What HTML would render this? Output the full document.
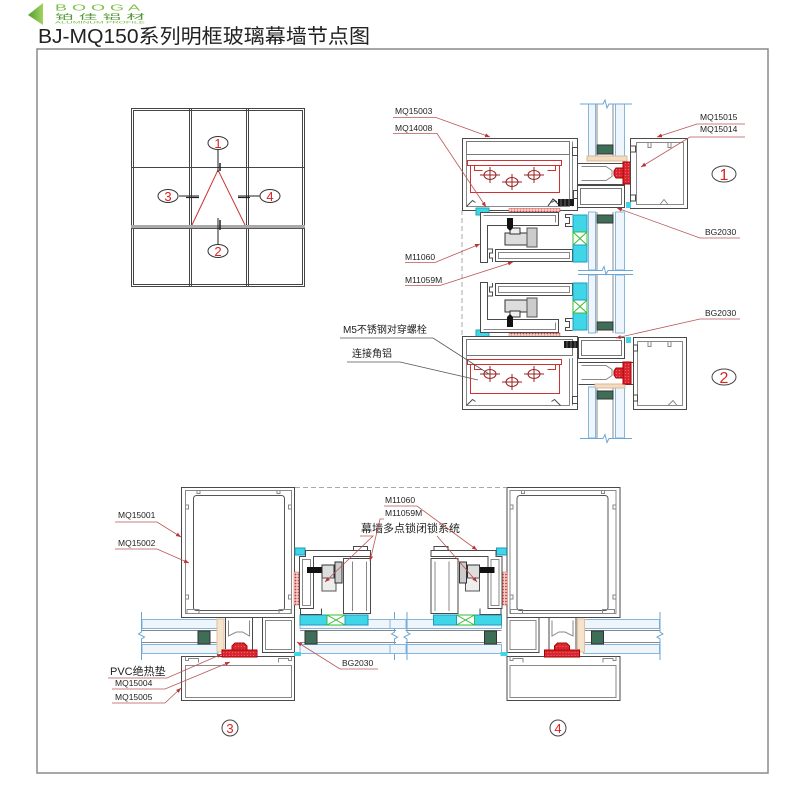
<!DOCTYPE html>
<html><head><meta charset="utf-8">
<style>
html,body{margin:0;padding:0;background:#fff;width:801px;height:801px;overflow:hidden;}
svg{display:block;}
text{font-family:"Liberation Sans","Noto Sans CJK SC",sans-serif;}
</style></head><body>
<svg width="801" height="801" viewBox="0 0 801 801" xmlns="http://www.w3.org/2000/svg">
<defs>
<linearGradient id="lg" x1="0" y1="0" x2="1" y2="0"><stop offset="0" stop-color="#4e9d2f"/><stop offset="1" stop-color="#a3d35f"/></linearGradient>
<pattern id="rh" width="3" height="3" patternUnits="userSpaceOnUse"><rect width="3" height="3" fill="#f4d0c8"/><circle cx="1.5" cy="1.5" r="0.9" fill="#c33"/></pattern>
<pattern id="rd" width="3" height="3" patternUnits="userSpaceOnUse"><rect width="3" height="3" fill="#d62828"/><circle cx="1.5" cy="1.5" r="0.6" fill="#f59"/></pattern>
<marker id="ar" markerWidth="6" markerHeight="6" refX="5" refY="3" orient="auto" markerUnits="userSpaceOnUse"><path d="M0,1 L5,3 L0,5 Z" fill="#b33"/></marker>
</defs>

<!-- header -->
<polygon points="28,15 43,3 43,25" fill="url(#lg)"/>
<text x="55" y="10.5" font-size="8" fill="#7dbf45" textLength="85" lengthAdjust="spacingAndGlyphs">B O O G A</text>
<text x="55" y="19" font-size="7" fill="#4f9a35" textLength="90" lengthAdjust="spacingAndGlyphs">铂 佳 铝 材</text>
<text x="55" y="23.5" font-size="3.8" fill="#7dbf45" textLength="90" lengthAdjust="spacingAndGlyphs">ALUMINUM PROFILE</text>
<text x="38" y="43" font-size="20" fill="#222" textLength="332" lengthAdjust="spacingAndGlyphs">BJ-MQ150系列明框玻璃幕墙节点图</text>

<!-- frame -->
<rect x="37" y="49" width="731" height="724" fill="none" stroke="#8a8a8a" stroke-width="1.5"/>

<!-- elevation -->
<g stroke="#444" stroke-width="1" fill="none">
<rect x="131.5" y="108.5" width="173" height="178"/>
<rect x="133.5" y="110.5" width="169" height="174"/>
<line x1="189.5" y1="108" x2="189.5" y2="287"/>
<line x1="191.5" y1="108" x2="191.5" y2="287"/>
<line x1="246.5" y1="108" x2="246.5" y2="287"/>
<line x1="248.5" y1="108" x2="248.5" y2="287"/>
<line x1="131" y1="167.5" x2="305" y2="167.5"/>
</g>
<line x1="131" y1="226.5" x2="305" y2="226.5" stroke="#aaa" stroke-width="3"/>
<line x1="131" y1="228.5" x2="305" y2="228.5" stroke="#555"/>
<polyline points="192,225 218,170 245,225" fill="none" stroke="#c33" stroke-width="1"/>
<g stroke="#222" fill="none">
<line x1="218" y1="150" x2="218" y2="172"/>
<line x1="220" y1="163" x2="220" y2="171" stroke-width="1.5"/>
<line x1="218" y1="218" x2="218" y2="244"/>
<line x1="220" y1="220" x2="220" y2="230" stroke-width="1.5"/>
<line x1="179" y1="196" x2="199" y2="196"/>
<line x1="186" y1="197.5" x2="199" y2="197.5" stroke-width="1.2"/>
<line x1="238" y1="196" x2="260" y2="196"/>
<line x1="238" y1="197.5" x2="250" y2="197.5" stroke-width="1.2"/>
</g>
<g fill="#fff" stroke="#333">
<ellipse cx="218" cy="143" rx="10" ry="6.5"/>
<ellipse cx="218" cy="251" rx="10" ry="6.5"/>
<ellipse cx="168" cy="196" rx="10" ry="6.5"/>
<ellipse cx="270" cy="196" rx="10" ry="6.5"/>
</g>
<g fill="#d22" font-size="13" text-anchor="middle">
<text x="218" y="148">1</text><text x="218" y="256">2</text><text x="168" y="201">3</text><text x="270" y="201">4</text>
</g>

<!-- ===== section 1 / 2 : vertical glass ===== -->
<g stroke="#86b6dc" fill="#eef6fc">
<rect x="588.5" y="104" width="7" height="54"/><rect x="615.5" y="104" width="9" height="54"/>
<rect x="588.5" y="212" width="7" height="58"/><rect x="615.5" y="212" width="9" height="58"/>
<rect x="588.5" y="275" width="7" height="58"/><rect x="615.5" y="275" width="9" height="58"/>
<rect x="588.5" y="387" width="7" height="51"/><rect x="615.5" y="387" width="9" height="51"/>
</g>
<g stroke="#888">
<line x1="597" y1="104" x2="597" y2="158"/><line x1="613" y1="104" x2="613" y2="158"/>
<line x1="597" y1="212" x2="597" y2="270"/><line x1="613" y1="212" x2="613" y2="270"/>
<line x1="597" y1="275" x2="597" y2="333"/><line x1="613" y1="275" x2="613" y2="333"/>
<line x1="597" y1="387" x2="597" y2="438"/><line x1="613" y1="387" x2="613" y2="438"/>
</g>
<g fill="none" stroke="#6aa6d6" stroke-width="1">
<path d="M580,104 H603 l2,-4 l2,8 l2,-4 H632"/>
<path d="M578,270.5 H602 l2,-4 l2,8 l2,-4 H633"/>
<path d="M578,274.5 H633"/>
<path d="M580,438.5 H603 l2,-4 l2,8 l2,-4 H632"/>
</g>

<!-- dashed vertical -->
<line x1="462" y1="210" x2="462" y2="336" stroke="#aaa" stroke-dasharray="5,3"/>

<!-- section 1 main profile -->
<g fill="none" stroke="#4a4a4a">
<rect x="462.5" y="138.5" width="115" height="72" fill="#fff"/>
<rect x="466.5" y="141.5" width="103" height="13" stroke="#777"/>
<path d="M466.5,154.5 V206.5 H569.5 V154.5" stroke="#888"/>
<path d="M572.5,141.5 V206.5" stroke="#888"/>
<path d="M577.5,147.5 h-5 v8 h5"/>
<path d="M577.5,190.5 h-4 v8 h4"/>
<path d="M466.5,206.5 l6,-6 l3,2 M560.5,206.5 l-6,-6 l-3,2"/>
</g>
<g fill="none" stroke="#c33">
<rect x="467.5" y="160.5" width="94" height="5"/>
<path d="M470.5,165.5 V192.5 H559.5 V165.5"/>
<path d="M474.5,165.5 v5 h8 M555.5,165.5 v5 h-8"/>
</g>
<g stroke="#922" fill="none">
<ellipse cx="490" cy="175" rx="6" ry="4.5"/><path d="M480,175 h20 M490,167 v16"/>
<ellipse cx="512" cy="182" rx="6" ry="4.5"/><path d="M502,182 h20 M512,174 v16"/>
<ellipse cx="534" cy="175" rx="6" ry="4.5"/><path d="M524,175 h20 M534,167 v16"/>
</g>
<path d="M548,206 l5,-7 l4,3" fill="none" stroke="#333"/>
<rect x="558" y="199" width="16" height="7" fill="#1a1a1a"/>
<path d="M561,199 v7 M565,199 v7 M569,199 v7" stroke="#888" stroke-width="0.7"/>
<!-- tube 1 -->
<rect x="577.5" y="185.5" width="47" height="22" fill="#fff" stroke="#4a4a4a"/>
<rect x="580.5" y="188.5" width="41" height="16" fill="none" stroke="#777"/>
<!-- T zone 1 -->
<path d="M577.5,163.5 H630 M577.5,184.5 H625" stroke="#4a4a4a" fill="none"/>
<path d="M581.5,166.5 H606 l6,4 v6 l-6,4 H581.5" stroke="#888" fill="none"/>
<rect x="587" y="156" width="40" height="5" fill="#f3dcc0" stroke="#d9b99a"/>
<rect x="597" y="145" width="16" height="9" fill="#3e6e57" stroke="#333"/>
<path d="M623,168 h-7 l-2,3 v4 l2,3 h7 z" fill="url(#rd)" stroke="#a00"/>
<rect x="623" y="162" width="9" height="22" fill="url(#rd)" stroke="#a00"/>
<!-- right profile 1 -->
<g fill="none" stroke="#4a4a4a">
<rect x="630.5" y="138.5" width="57" height="70" fill="#fff"/>
<rect x="636.5" y="142.5" width="47" height="62" stroke="#888"/>
<path d="M630.5,146 h5 v6 h-5 M630.5,195 h5 v6 h-5"/>
<path d="M648,142.5 v5 h3 v-5 M668,142.5 v5 h3 v-5" stroke="#888"/>
<path d="M660,204.5 l4,-5 l4,5" stroke="#888"/>
</g>
<rect x="626" y="202" width="5" height="6" fill="#3fd6e8"/>

<!-- secondary profile (upper), mirrored for lower -->
<g id="sec">
<rect x="476" y="208" width="13" height="7" fill="#3fd6e8" stroke="#2aa"/>
<rect x="509" y="208.5" width="51" height="3.5" fill="url(#rh)" stroke="#c66" stroke-width="0.5"/>
<g fill="none" stroke="#4a4a4a">
<path d="M480.5,262.5 V212.5 H558.5 V225.5 H487.5 V262.5 Z" fill="#fff"/>
<path d="M483.5,215.5 H555.5 V222.5" stroke="#888"/>
<path d="M487.5,249 h5 v4 h-3 v5 h3 v4"/>
<rect x="495.5" y="249.5" width="77" height="12" fill="#fff"/>
<rect x="498.5" y="252.5" width="71" height="6" stroke="#888"/>
<path d="M572.5,214.5 h-7 v3 h4 v6 h-4 v3 h7"/>
</g>
<rect x="505" y="233" width="22" height="12" fill="#ddd" stroke="#333"/>
<rect x="510" y="228" width="10" height="6" fill="#eee" stroke="#333"/>
<rect x="527" y="228" width="10" height="19" fill="#ccc" stroke="#555"/>
<path d="M507,218 h6 v10 l-3,3 l-3,-3 z" fill="#111"/>
<rect x="573" y="215" width="14" height="17" fill="#3fd6e8" stroke="#29b"/>
<rect x="573" y="232" width="14" height="13" fill="#fff" stroke="#3b3"/>
<path d="M573,232 l14,13 M587,232 l-14,13" stroke="#3b3"/>
<rect x="573" y="245" width="14" height="17" fill="#3fd6e8" stroke="#29b"/>
<rect x="597" y="215" width="16" height="8" fill="#3e6e57" stroke="#333"/>
</g>
<use href="#sec" transform="matrix(1,0,0,-1,0,545)"/>

<!-- section 2 main profile -->
<g fill="none" stroke="#4a4a4a">
<rect x="462.5" y="336.5" width="115" height="73" fill="#fff"/>
<rect x="466.5" y="339.5" width="106" height="16" stroke="#777"/>
<path d="M466.5,355.5 V405.5 H569.5 V358.5" stroke="#888"/>
<path d="M572.5,358 V405.5" stroke="#888"/>
<path d="M577.5,396.5 h-5 v7 h5"/>
<path d="M466.5,405.5 l6,-6 l3,2 M560.5,405.5 l-6,-6 l-3,2"/>
</g>
<g fill="none" stroke="#c33">
<rect x="467.5" y="359.5" width="94" height="5"/>
<path d="M470.5,364.5 V393.5 H559.5 V364.5"/>
<path d="M474.5,364.5 v5 h8 M555.5,364.5 v5 h-8"/>
</g>
<g stroke="#922" fill="none">
<ellipse cx="490" cy="374" rx="6" ry="4.5"/><path d="M480,374 h20 M490,366 v16"/>
<ellipse cx="512" cy="382" rx="6" ry="4.5"/><path d="M502,382 h20 M512,374 v16"/>
<ellipse cx="534" cy="374" rx="6" ry="4.5"/><path d="M524,374 h20 M534,366 v16"/>
</g>
<rect x="564" y="341" width="16" height="7" fill="#1a1a1a"/>
<path d="M567,341 v7 M571,341 v7 M575,341 v7" stroke="#888" stroke-width="0.7"/>
<rect x="578.5" y="337.5" width="46" height="21" fill="#fff" stroke="#4a4a4a"/>
<rect x="581.5" y="340.5" width="40" height="15" fill="none" stroke="#777"/>
<path d="M578.5,362.5 H633 M578.5,384.5 H633" stroke="#4a4a4a" fill="none"/>
<path d="M581.5,365.5 H606 l6,4 v6 l-6,4 H581.5" stroke="#888" fill="none"/>
<rect x="595" y="384" width="30" height="4" fill="#f3dcc0" stroke="#d9b99a"/>
<rect x="597" y="391" width="16" height="8" fill="#3e6e57" stroke="#333"/>
<path d="M623,368 h-7 l-2,3 v4 l2,3 h7 z" fill="url(#rd)" stroke="#a00"/>
<rect x="623" y="362" width="8" height="22" fill="url(#rd)" stroke="#a00"/>
<g fill="none" stroke="#4a4a4a">
<rect x="633.5" y="337.5" width="53" height="72" fill="#fff"/>
<rect x="637.5" y="341.5" width="45" height="64" stroke="#888"/>
<path d="M633.5,345 h4 v6 h-4 M633.5,395 h4 v6 h-4"/>
<path d="M648,341.5 v5 h3 v-5 M668,341.5 v5 h3 v-5" stroke="#888"/>
<path d="M668,405.5 l5,-5 l4,5" stroke="#888"/>
</g>
<rect x="626" y="337" width="5" height="6" fill="#3fd6e8"/>

<!-- circles 1 2 -->
<ellipse cx="724" cy="174" rx="12" ry="8" fill="#fff" stroke="#444"/>
<text x="724" y="180" font-size="16" fill="#d22" text-anchor="middle">1</text>
<ellipse cx="724" cy="377" rx="12" ry="8" fill="#fff" stroke="#444"/>
<text x="724" y="383" font-size="16" fill="#d22" text-anchor="middle">2</text>

<!-- ===== bottom section 3 ===== -->
<line x1="295" y1="487.5" x2="506" y2="487.5" stroke="#aaa" stroke-dasharray="5,3"/>
<g id="b3">
<g stroke="#86b6dc" fill="#eef6fc">
<rect x="142" y="619.5" width="76" height="9"/><rect x="142" y="644.5" width="76" height="9"/>
<rect x="300" y="619.5" width="96" height="9"/><rect x="300" y="644.5" width="96" height="9"/>
</g>
<g stroke="#888"><line x1="142" y1="630.5" x2="218" y2="630.5"/><line x1="142" y1="642.5" x2="218" y2="642.5"/>
<line x1="300" y1="630.5" x2="396" y2="630.5"/><line x1="300" y1="642.5" x2="396" y2="642.5"/></g>
<path d="M141.5,612 V632 l-3,2 l6,3 l-3,2 V660" fill="none" stroke="#6aa6d6"/>
<path d="M394.5,612 V632 l-3,2 l6,3 l-3,2 V660" fill="none" stroke="#6aa6d6"/>
<rect x="198" y="631" width="12" height="13" fill="#3e6e57" stroke="#333"/>
<rect x="305" y="631" width="12" height="13" fill="#3e6e57" stroke="#333"/>
<rect x="217" y="619" width="7" height="33" fill="#f5e3cc" stroke="#e0c0a0"/>
<g fill="none" stroke="#4a4a4a">
<rect x="181.5" y="487.5" width="113" height="130" fill="#fff"/>
<rect x="185.5" y="490.5" width="106" height="123" stroke="#888"/>
<rect x="193.5" y="495.5" width="91" height="115" rx="3" stroke="#555"/>
<path d="M197,490.5 v3 h3 v-3 M277,490.5 v3 h3 v-3" stroke="#888"/>
<path d="M185.5,505 h3 v4 h-3 M185.5,595 h3 v4 h-3 M291.5,505 h-3 v4 h3 M291.5,595 h-3 v4 h3" stroke="#888"/>
<path d="M187,613.5 v-4 h12 v4 M279,613.5 v-4 h12 v4" stroke="#888"/>
<path d="M225.5,617.5 V649 M252.5,617.5 V657"/>
<path d="M228.5,620.5 V636 l8,-4 h6 l7,4 V620.5" stroke="#888"/>
<rect x="262.5" y="617.5" width="32" height="35" fill="#fff"/>
<rect x="265.5" y="620.5" width="26" height="29" stroke="#888"/>
<rect x="181.5" y="656.5" width="113" height="44" fill="#fff"/>
<rect x="185.5" y="665.5" width="106" height="32" stroke="#888"/>
<path d="M185.5,656.5 v4 h3 v-2 h10 v4 M291.5,656.5 v4 h-3 v-2 h-10 v4" stroke="#888"/>
</g>
<path d="M232,650 v-4 l3,-3 h9 l3,3 v4 z" fill="url(#rd)" stroke="#a00"/>
<rect x="222" y="650" width="35" height="7" fill="url(#rd)" stroke="#a00"/>
<rect x="294" y="652" width="7" height="4" fill="#3fd6e8"/>
<!-- cyan row -->
<rect x="300" y="615" width="27" height="10" fill="#3fd6e8" stroke="#29b"/>
<rect x="327" y="615" width="18" height="10" fill="#fff" stroke="#3b3"/>
<path d="M327,615 l18,10 M345,615 l-18,10" stroke="#3b3"/>
<rect x="345" y="615" width="23" height="10" fill="#3fd6e8" stroke="#29b"/>
<!-- secondary -->
<rect x="295" y="548" width="10" height="7" fill="#3fd6e8" stroke="#29b"/>
<rect x="294" y="572" width="5" height="33" fill="url(#rh)" stroke="#c66" stroke-width="0.5"/>
<g fill="none" stroke="#4a4a4a">
<path d="M299.5,556.5 H305.5 V550.5 H370.5 V556.5 H313.5 V608.5 H299.5 Z" fill="#fff"/>
<rect x="302.5" y="559.5" width="8" height="46" stroke="#888"/>
<path d="M300.5,608.5 v6 h21 v-6"/>
<path d="M343.5,558.5 H370.5 V613.5 H343.5 Z" fill="#fff"/>
<path d="M352.5,561.5 V611 M366.5,561.5 V611" stroke="#888"/>
<path d="M353.5,550.5 v-4 h14 v4"/>
</g>
<rect x="307" y="567" width="15" height="6" fill="#111"/>
<rect x="322" y="565" width="12" height="13" fill="#ddd" stroke="#333"/>
<rect x="322" y="578" width="14" height="13" fill="#eee" stroke="#555"/>
<rect x="335" y="562" width="7" height="21" fill="#ccc" stroke="#333"/>
</g>
<use href="#b3" transform="matrix(-1,0,0,1,801.5,0)"/>
<g stroke="#86b6dc" fill="#eef6fc">
<rect x="390" y="619.5" width="16" height="9"/><rect x="390" y="644.5" width="16" height="9"/>
</g>

<!-- circles 3 4 -->
<circle cx="230" cy="728" r="8" fill="#fff" stroke="#444"/>
<text x="230" y="733" font-size="13" fill="#d22" text-anchor="middle">3</text>
<circle cx="558" cy="728" r="8" fill="#fff" stroke="#444"/>
<text x="558" y="733" font-size="13" fill="#d22" text-anchor="middle">4</text>

<!-- labels -->
<g font-size="8.5" fill="#222">
<text x="395" y="114">MQ15003</text>
<text x="395" y="131">MQ14008</text>
<text x="405" y="260">M11060</text>
<text x="405" y="283">M11059M</text>
<text x="700" y="120">MQ15015</text>
<text x="700" y="132">MQ15014</text>
<text x="705" y="235">BG2030</text>
<text x="705" y="316">BG2030</text>
<text x="118" y="518">MQ15001</text>
<text x="118" y="546">MQ15002</text>
<text x="115" y="686">MQ15004</text>
<text x="115" y="700">MQ15005</text>
<text x="342" y="666">BG2030</text>
<text x="385" y="503">M11060</text>
<text x="385" y="516">M11059M</text>
</g>
<g font-size="10" fill="#222">
<text x="343" y="333">M5不锈钢对穿螺栓</text>
<text x="352" y="357">连接角铝</text>
<text x="110" y="675" font-size="11">PVC绝热垫</text>
<text x="361" y="532" font-size="11" textLength="99" lengthAdjust="spacingAndGlyphs">幕墙多点锁闭锁系统</text>
</g>

<!-- leaders -->
<g fill="none" stroke="#b55" stroke-width="0.8">
<polyline points="393,117.5 436,117.5 490,137" marker-end="url(#ar)"/>
<polyline points="393,133.5 437,133.5 486,207" marker-end="url(#ar)"/>
<polyline points="405,262.5 435,262.5 480,244" marker-end="url(#ar)"/>
<polyline points="405,285.5 440,285.5 513,262" marker-end="url(#ar)"/>
<polyline points="745,124 697,124 657,137" marker-end="url(#ar)"/>
<polyline points="745,137 690,137 641,167" marker-end="url(#ar)"/>
<polyline points="740,238 700,238 617,208" marker-end="url(#ar)"/>
<polyline points="740,319 700,319 616,338" marker-end="url(#ar)"/>
<polyline points="115,522 157,522 181,537" marker-end="url(#ar)"/>
<polyline points="115,549 157,549 189,563" marker-end="url(#ar)"/>
<polyline points="108,678 167,678 222,654" marker-end="url(#ar)"/>
<polyline points="112,689 165,689 230,662" marker-end="url(#ar)"/>
<polyline points="112,703 165,703 181,688" marker-end="url(#ar)"/>
<polyline points="378,669 340,669 297,642" marker-end="url(#ar)"/>
<polyline points="384,506 417,506 477,550" marker-end="url(#ar)"/>
<polyline points="384,519 380,519 370,561" marker-end="url(#ar)"/>
<polyline points="360,536 373,536 325,582" marker-end="url(#ar)"/>
<polyline points="437,536 477,582" marker-end="url(#ar)"/>
</g>
<g fill="none" stroke="#555" stroke-width="0.8">
<polyline points="340,338 433,338 489,374"/>
<polyline points="347,362 400,362 478,380"/>
</g>
</svg>
</body></html>
